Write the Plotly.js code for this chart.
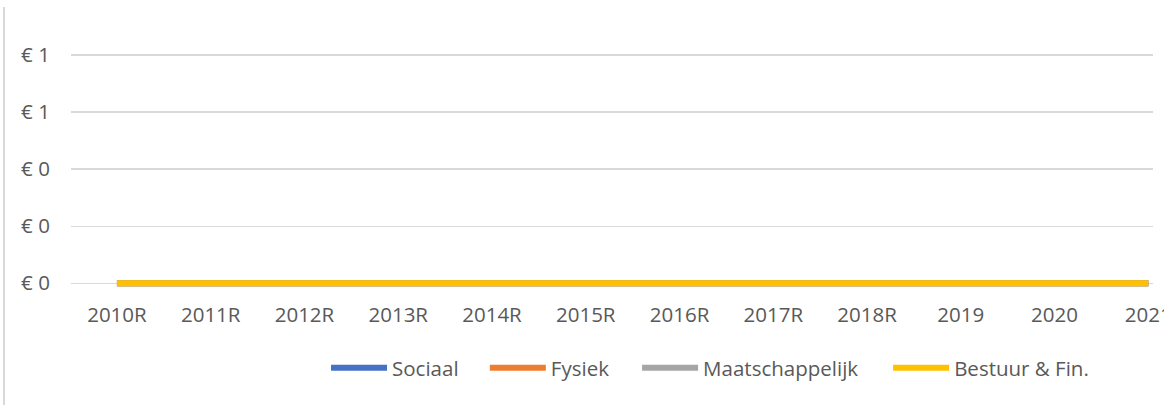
<!DOCTYPE html>
<html>
<head>
<meta charset="utf-8">
<script src="https://cdn.plot.ly/plotly-3.0.1.min.js"></script>
<style>
  html, body { margin: 0; padding: 0; background: #fff; }
  #wrap { position: relative; width: 1164px; height: 405px; overflow: hidden; }
  #chart { position: absolute; left: 0; top: 0; width: 1164px; height: 405px; }
  #border { position: absolute; left: 3px; top: 7px; width: 2px; height: 398px; background: #d9d9d9; }
</style>
</head>
<body>
<div id="wrap">
  <div id="chart"></div>
  <div id="border"></div>
</div>
<script>
// Data
const categories = ['2010R','2011R','2012R','2013R','2014R','2015R','2016R','2017R','2018R','2019','2020','2021'];
const sociaal          = [0,0,0,0,0,0,0,0,0,0,0,0];
const fysiek           = [0,0,0,0,0,0,0,0,0,0,0,0];
const maatschappelijk  = [0,0,0,0,0,0,0,0,0,0,0,0];
const bestuurFin       = [0,0,0,0,0,0,0,0,0,0,0,0];
const seriesNames = ['Sociaal','Fysiek','Maatschappelijk','Bestuur & Fin.'];
const yTickValues = [0, 0.2, 0.4, 0.6, 0.8];
const yTickLabels = ['€ 0','€ 0','€ 0','€ 1','€ 1'];

const colors = ['#4472C4','#ED7D31','#A5A5A5','#FFC000'];
const allSeries = [sociaal, fysiek, maatschappelijk, bestuurFin];
const legendIds = ['legend','legend2','legend3','legend4'];
// legend left edges (paper fraction) for each separate legend entry
const legendX = [0.2357, 0.3825, 0.5232, 0.7552];

const traces = allSeries.map((vals, i) => ({
  type: 'scatter',
  mode: 'lines',
  name: seriesNames[i],
  x: categories,
  y: vals,
  legend: legendIds[i],
  line: { color: colors[i], width: 6 },
  hoverinfo: 'skip'
}));

const font = { family: '"Open Sans", "Noto Sans", sans-serif', size: 20.5, color: '#595959' };

const layout = {
  width: 1164,
  height: 405,
  margin: { l: 71, r: 11, t: 52, b: 116 },
  paper_bgcolor: '#ffffff',
  plot_bgcolor: '#ffffff',
  font: font,
  showlegend: true,
  xaxis: {
    type: 'category',
    range: [-0.49, 11.05],
    showgrid: false,
    zeroline: false,
    showline: false,
    ticks: 'outside',
    ticklen: 7,
    tickcolor: 'rgba(0,0,0,0)',
    tickfont: font,
    fixedrange: true
  },
  yaxis: {
    range: [-0.02, 0.81],
    tickvals: yTickValues,
    ticktext: yTickLabels,
    showgrid: true,
    gridcolor: '#d9d9d9',
    gridwidth: 1.3,
    zeroline: false,
    showline: false,
    ticks: 'outside',
    ticklen: 16,
    tickcolor: 'rgba(0,0,0,0)',
    tickfont: font,
    fixedrange: true
  }
};

legendIds.forEach((id, i) => {
  layout[id] = {
    orientation: 'h',
    x: legendX[i], xanchor: 'left',
    y: -0.333, yanchor: 'middle',
    font: font,
    itemwidth: 56,
    bgcolor: 'rgba(0,0,0,0)'
  };
});

Plotly.newPlot('chart', traces, layout, { staticPlot: true, displayModeBar: false });
</script>
</body>
</html>
